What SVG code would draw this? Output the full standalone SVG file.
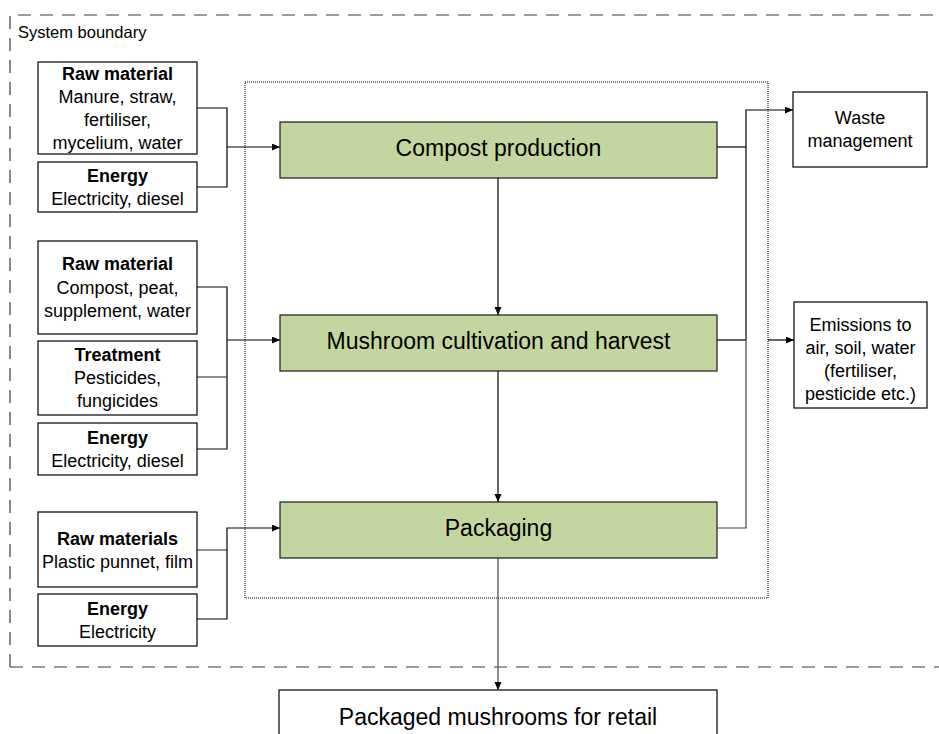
<svg xmlns="http://www.w3.org/2000/svg" width="939" height="734" viewBox="0 0 939 734">
  <style>
    .box { fill: #ffffff; stroke: #000000; stroke-width: 1.2; }
    .proc { fill: #c4d69f; stroke: #1a1a1a; stroke-width: 1.2; }
    .t { font-family: "Liberation Sans", Arial, sans-serif; font-size: 18px; fill: #000; text-anchor: middle; }
    .b { font-weight: bold; }
    .pt { font-family: "Liberation Sans", Arial, sans-serif; font-size: 23px; fill: #000; text-anchor: middle; }
    .edge { fill: none; stroke: #000; stroke-width: 1.2; }
    .edge-g { fill: none; stroke: #444; stroke-width: 1.2; }
  </style>
  <defs>
    <marker id="arrow" markerUnits="userSpaceOnUse" markerWidth="9" markerHeight="8" refX="8" refY="3.5" orient="auto">
      <path d="M0,0 L8,3.5 L0,7 z" fill="#000"/>
    </marker>
  </defs>

  <rect width="939" height="734" fill="#ffffff"/>

  <!-- system boundary (dashed) -->
  <g id="system-boundary">
    <path d="M10,667 V15 H945" fill="none" stroke="#3a3a3a" stroke-width="1.2" stroke-dasharray="13 9"/>
    <path d="M10,667 H945" fill="none" stroke="#3a3a3a" stroke-width="1.2" stroke-dasharray="13 9"/>
    <text x="18" y="38" font-family="Liberation Sans, Arial, sans-serif" font-size="16.5" fill="#000">System boundary</text>
  </g>

  <!-- inner process frame (dotted) -->
  <rect id="process-frame" x="245" y="82" width="523" height="516" fill="none" stroke="#000" stroke-width="1" stroke-dasharray="1 1"/>

  <!-- connectors -->
  <g id="connectors">
    <!-- compost inputs -->
    <path class="edge" d="M197,108 H227 V187 H197"/>
    <path class="edge" d="M227,147 H280" marker-end="url(#arrow)"/>
    <!-- cultivation inputs -->
    <path class="edge" d="M197,287 H227 V449 H197"/>
    <path class="edge-g" d="M197,377 H227"/>
    <path class="edge" d="M227,340 H280" marker-end="url(#arrow)"/>
    <!-- packaging inputs -->
    <path class="edge-g" d="M197,550 H227"/>
    <path class="edge" d="M197,619 H227 V528 H280" marker-end="url(#arrow)"/>
    <!-- main chain -->
    <path class="edge" d="M498,178 V315" marker-end="url(#arrow)"/>
    <path class="edge" d="M498,371 V502" marker-end="url(#arrow)"/>
    <path class="edge-g" d="M498,558 V690" marker-end="url(#arrow)"/>
    <!-- outputs -->
    <path class="edge" d="M717,147 H746"/>
    <path class="edge" d="M717,340 H746"/>
    <path class="edge-g" d="M717,528 H746 V340"/>
    <path class="edge" d="M746,340 V110 H793" marker-end="url(#arrow)"/>
    <path class="edge" d="M768,340 H794" marker-end="url(#arrow)"/>
  </g>

  <!-- compost production inputs -->
  <g id="rm-compost">
    <rect class="box" x="38" y="62" width="159" height="92"/>
    <text class="t b" x="117.5" y="80">Raw material</text>
    <text class="t" x="117.5" y="103">Manure, straw,</text>
    <text class="t" x="117.5" y="126">fertiliser,</text>
    <text class="t" x="117.5" y="149">mycelium, water</text>
  </g>
  <g id="energy-compost">
    <rect class="box" x="38" y="162" width="159" height="50"/>
    <text class="t b" x="117.5" y="182">Energy</text>
    <text class="t" x="117.5" y="205">Electricity, diesel</text>
  </g>

  <!-- cultivation inputs -->
  <g id="rm-cultivation">
    <rect class="box" x="38" y="241" width="159" height="93"/>
    <text class="t b" x="117.5" y="270">Raw material</text>
    <text class="t" x="117.5" y="294">Compost, peat,</text>
    <text class="t" x="117.5" y="317">supplement, water</text>
  </g>
  <g id="treatment">
    <rect class="box" x="38" y="341" width="159" height="74"/>
    <text class="t b" x="117.5" y="361">Treatment</text>
    <text class="t" x="117.5" y="384">Pesticides,</text>
    <text class="t" x="117.5" y="407">fungicides</text>
  </g>
  <g id="energy-cultivation">
    <rect class="box" x="38" y="423" width="159" height="52"/>
    <text class="t b" x="117.5" y="444">Energy</text>
    <text class="t" x="117.5" y="467">Electricity, diesel</text>
  </g>

  <!-- packaging inputs -->
  <g id="rm-packaging">
    <rect class="box" x="38" y="512" width="159" height="75"/>
    <text class="t b" x="117.5" y="545">Raw materials</text>
    <text class="t" x="117.5" y="568">Plastic punnet, film</text>
  </g>
  <g id="energy-packaging">
    <rect class="box" x="38" y="594" width="159" height="52"/>
    <text class="t b" x="117.5" y="615">Energy</text>
    <text class="t" x="117.5" y="638">Electricity</text>
  </g>

  <!-- process steps -->
  <g id="compost-production">
    <rect class="proc" x="280" y="122" width="437" height="56"/>
    <text class="pt" x="498.5" y="156">Compost production</text>
  </g>
  <g id="mushroom-cultivation">
    <rect class="proc" x="280" y="315" width="437" height="56"/>
    <text class="pt" x="498.5" y="349">Mushroom cultivation and harvest</text>
  </g>
  <g id="packaging">
    <rect class="proc" x="280" y="502" width="437" height="56"/>
    <text class="pt" x="498.5" y="536">Packaging</text>
  </g>

  <!-- outputs -->
  <g id="waste-management">
    <rect class="box" x="793" y="92" width="134" height="75"/>
    <text class="t" x="860" y="124">Waste</text>
    <text class="t" x="860" y="147">management</text>
  </g>
  <g id="emissions">
    <rect class="box" x="794" y="302" width="133" height="106"/>
    <text class="t" x="860.5" y="331">Emissions to</text>
    <text class="t" x="860.5" y="354">air, soil, water</text>
    <text class="t" x="860.5" y="377">(fertiliser,</text>
    <text class="t" x="860.5" y="400">pesticide etc.)</text>
  </g>
  <g id="retail">
    <rect class="box" x="279" y="690" width="438" height="60"/>
    <text class="pt" x="498" y="725">Packaged mushrooms for retail</text>
  </g>
</svg>
